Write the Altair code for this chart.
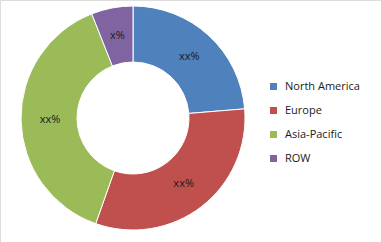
import altair as alt
import pandas as pd

regions = ["North America", "Europe", "Asia-Pacific", "ROW"]
shares = [23.7, 31.7, 38.6, 6.0]
labels = ["xx%", "xx%", "xx%", "x%"]
order = [0, 1, 2, 3]
colors = ["#4F81BD", "#C0504D", "#9BBB59", "#8064A2"]

df = pd.DataFrame({"region": regions, "share": shares, "label": labels, "ord": order})

base = alt.Chart(df).encode(
    theta=alt.Theta("share:Q", stack=True),
    order=alt.Order("ord:Q"),
    x=alt.value(133),
    y=alt.value(118),
)

arc = base.mark_arc(outerRadius=112, innerRadius=56, stroke="white", strokeWidth=1).encode(
    color=alt.Color(
        "region:N",
        scale=alt.Scale(domain=regions, range=colors),
        sort=regions,
        legend=alt.Legend(
            title=None,
            orient="none",
            legendX=268,
            legendY=81,
            symbolType="square",
            symbolSize=49,
            symbolStrokeWidth=0,
            labelFontSize=11,
            labelFont="Open Sans",
            labelColor="#1a1a1a",
            labelOffset=6,
            rowPadding=12,
        ),
    )
)

text = base.mark_text(radius=83, fontSize=11, font="Open Sans", color="#1a1a1a").encode(
    text="label:N"
)

chart = (
    alt.layer(arc, text)
    .properties(width=381, height=242, autosize=alt.AutoSizeParams(type="none"), padding=0)
    .configure_view(stroke=None)
    .configure(background="white")
)

chart.save("out.html", embed_options={"renderer": "svg", "actions": False})
